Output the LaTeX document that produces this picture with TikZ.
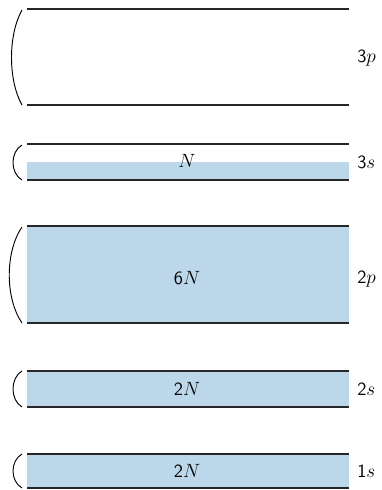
\documentclass[tikz,border=0pt]{standalone}
\usepackage{tikz}

\definecolor{bandblue}{RGB}{187,215,233}
\newcommand{\dg}[1]{\textsf{#1}}

\tikzset{
  lvl/.style={line width=1.7pt, black!85},
  band/.style={fill=bandblue, draw=none},
  paren/.style={line width=0.7pt, black},
  tag/.style={font=\fontsize{14}{16}\selectfont, inner sep=0pt}
}

\begin{document}
\begin{tikzpicture}[x=0.75pt, y=-0.75pt]
\useasboundingbox (0,0) rectangle (382,490);

% fillings
\fill[band] (27,162) rectangle (349,180);
\fill[band] (27,226) rectangle (349,323);
\fill[band] (27,371) rectangle (349,407);
\fill[band] (27,454) rectangle (349,488);

% level edges
\draw[lvl] (27,9) -- (349,9);
\draw[lvl] (27,105) -- (349,105);
\draw[lvl] (27,144) -- (349,144);
\draw[lvl] (27,180) -- (349,180);
\draw[lvl] (27,226) -- (349,226);
\draw[lvl] (27,323) -- (349,323);
\draw[lvl] (27,371) -- (349,371);
\draw[lvl] (27,407) -- (349,407);
\draw[lvl] (27,454) -- (349,454);
\draw[lvl] (27,488) -- (349,488);

% brackets on the left
\draw[paren] (22,10) .. controls (8,35) and (8,80) .. (22,105);
\draw[paren] (22,145) .. controls (10,152) and (10,173) .. (22,180);
\draw[paren] (22,227) .. controls (5,252) and (5,298) .. (22,323);
\draw[paren] (22,371) .. controls (10,378) and (10,400) .. (22,407);
\draw[paren] (22,454) .. controls (10,461) and (10,481) .. (22,488);

% contents
\node[tag] (n3s) at (187,161) {$N$};
\node[tag] (n2p) at (187,278) {\dg{6}$N$};
\node[tag] (n2s) at (187,389) {\dg{2}$N$};
\node[tag] (n1s) at (187,471) {\dg{2}$N$};

% shell names
\node[tag, anchor=west] (s3p) at (357,58) {\dg{3}$p$};
\node[tag, anchor=west] (s3s) at (357,162) {\dg{3}$s$};
\node[tag, anchor=west] (s2p) at (357,279) {\dg{2}$p$};
\node[tag, anchor=west] (s2s) at (357,389) {\dg{2}$s$};
\node[tag, anchor=west] (s1s) at (357,471) {\dg{1}$s$};
\end{tikzpicture}
\end{document}
